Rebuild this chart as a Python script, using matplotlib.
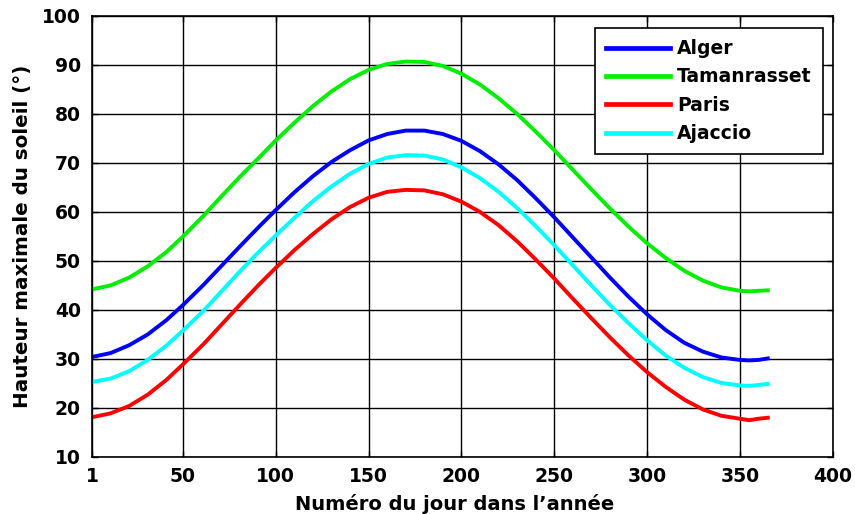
import matplotlib
matplotlib.use("Agg")
import matplotlib.pyplot as plt

days = [1, 11, 21, 31, 41, 50, 61, 71, 81, 91, 100, 110, 120, 130, 140, 150, 160, 170, 180,
        190, 200, 210, 220, 230, 240, 250, 260, 270, 280, 290, 300, 310, 320, 330, 340, 350,
        355, 360, 365]

alger = [30.4, 31.2, 32.8, 35.0, 37.9, 41.0, 45.1, 49.1, 53.1, 57.0, 60.4, 64.0, 67.3, 70.2,
         72.6, 74.6, 75.9, 76.6, 76.6, 75.9, 74.5, 72.4, 69.7, 66.5, 62.8, 58.9, 54.8, 50.7,
         46.6, 42.7, 39.1, 35.9, 33.3, 31.5, 30.3, 29.8, 29.7, 29.8, 30.1]

tamanrasset = [44.2, 45.0, 46.6, 48.9, 51.8, 55.0, 59.2, 63.3, 67.3, 71.1, 74.6, 78.2, 81.6,
               84.6, 87.1, 89.0, 90.2, 90.7, 90.6, 89.8, 88.2, 86.0, 83.2, 80.0, 76.4, 72.6,
               68.6, 64.6, 60.7, 57.0, 53.6, 50.6, 48.0, 46.0, 44.6, 43.9, 43.8, 43.9, 44.0]

paris = [18.1, 18.9, 20.4, 22.7, 25.7, 28.9, 33.0, 37.1, 41.2, 45.2, 48.6, 52.2, 55.5, 58.5,
         61.0, 62.9, 64.1, 64.5, 64.4, 63.6, 62.1, 60.0, 57.3, 54.0, 50.3, 46.4, 42.3, 38.3,
         34.4, 30.7, 27.3, 24.3, 21.7, 19.7, 18.4, 17.8, 17.5, 17.8, 18.0]

ajaccio = [25.3, 26.0, 27.5, 29.8, 32.7, 35.8, 39.8, 43.9, 48.0, 51.9, 55.2, 58.8, 62.2, 65.2,
           67.8, 69.8, 71.1, 71.6, 71.5, 70.7, 69.1, 66.9, 64.1, 60.8, 57.1, 53.2, 49.1, 45.0,
           41.0, 37.3, 33.8, 30.7, 28.2, 26.3, 25.1, 24.6, 24.5, 24.7, 24.9]

series = [("Alger", alger, "#0000ff"),
          ("Tamanrasset", tamanrasset, "#00ee00"),
          ("Paris", paris, "#ff0000"),
          ("Ajaccio", ajaccio, "#00ffff")]

xticks = [1, 50, 100, 150, 200, 250, 300, 350, 400]
yticks = [10, 20, 30, 40, 50, 60, 70, 80, 90, 100]

plt.rcParams['font.family'] = ['DejaVu Sans']
plt.rcParams['font.weight'] = 'bold'

FS = 13.5

fig = plt.figure(figsize=(8.55, 5.14), dpi=100)
ax = fig.add_axes([0.1076, 0.111, 0.8664, 0.858])

for name, vals, col in series:
    ax.plot(days, vals, color=col, lw=2.8, label=name, solid_joinstyle='round')

ax.set_xlim(1, 400)
ax.set_ylim(10, 100)
ax.set_xticks(xticks)
ax.set_yticks(yticks)
ax.set_xticklabels([str(t) for t in xticks], fontsize=FS, fontweight='bold')
ax.set_yticklabels([str(t) for t in yticks], fontsize=FS, fontweight='bold')
ax.grid(True, color='black', lw=1.0)
ax.set_axisbelow(True)
ax.tick_params(direction='in', length=4, width=1, top=True, right=True)
ax.tick_params(axis='x', pad=7)
ax.tick_params(axis='y', pad=8)
for s in ax.spines.values():
    s.set_linewidth(1.2)

ax.set_xlabel("Numéro du jour dans l’année", fontsize=14, fontweight='bold')
ax.xaxis.set_label_coords(0.49, -0.083)
ax.set_ylabel("Hauteur maximale du soleil (°)", fontsize=14.3, fontweight='bold')
ax.yaxis.set_label_coords(-0.0815, 0.5)

leg = ax.legend(loc='upper right', bbox_to_anchor=(0.9865, 0.973), borderaxespad=0,
                fontsize=FS, frameon=True, fancybox=False, edgecolor='black', framealpha=1,
                handlelength=3.4, handletextpad=0.37, labelspacing=0.5, borderpad=0.6)
leg.get_frame().set_linewidth(1.2)
for line in leg.get_lines():
    line.set_linewidth(3.4)

fig.savefig("out.png", dpi=100)
